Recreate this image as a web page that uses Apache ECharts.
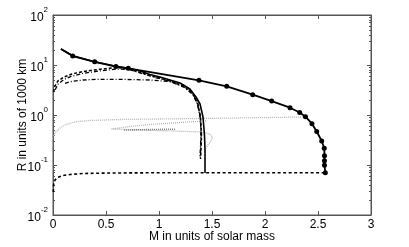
<!DOCTYPE html>
<html>
<head>
<meta charset="utf-8">
<script src="https://cdn.jsdelivr.net/npm/echarts@6/dist/echarts.min.js"></script>
<style>
html,body{margin:0;padding:0;background:#fff;}
#chart{width:409px;height:247px;}
</style>
</head>
<body>
<div id="chart"></div>
<script>
// ---- data (M in solar masses, R in 1000 km) ----
const dotsMass   = [0.075, 0.186, 0.393, 0.594, 0.710, 1.377, 1.639, 1.884, 2.063, 2.236, 2.327, 2.382, 2.443, 2.488, 2.535, 2.559, 2.561, 2.561, 2.561, 2.569];
const dotsRadius = [20.9, 15.1, 11.6, 9.3, 8.6, 4.94, 3.75, 2.55, 1.90, 1.40, 1.12, 0.925, 0.67, 0.468, 0.302, 0.217, 0.153, 0.121, 0.099, 0.070];

const chandraMass   = [0.075, 0.186, 0.392, 0.594, 0.712, 0.821, 0.915, 1.009, 1.104, 1.198, 1.292, 1.349, 1.387, 1.415, 1.429, 1.434, 1.434];
const chandraRadius = [20.9, 15.3, 11.6, 9.42, 8.59, 7.59, 6.46, 5.75, 5.01, 4.37, 3.31, 2.29, 1.66, 0.912, 0.398, 0.2, 0.0692];

const dashAMass   = [0.005, 0.019, 0.047, 0.104, 0.179, 0.283, 0.443, 0.594, 0.708, 0.915, 1.104, 1.245, 1.321, 1.368, 1.392, 1.401, 1.396, 1.392];
const dashARadius = [2.88, 3.8, 4.79, 5.75, 6.6, 7.41, 8.2, 8.91, 8.4, 6.17, 4.79, 3.63, 2.63, 1.66, 0.87, 0.398, 0.219, 0.132];

const dashBMass   = [0.02, 0.05, 0.10, 0.17, 0.28, 0.44, 0.60, 0.72, 0.92, 1.10, 1.24, 1.32, 1.365, 1.39, 1.398, 1.394, 1.39];
const dashBRadius = [3.2, 4.2, 5.1, 5.9, 6.8, 7.6, 8.3, 8.1, 6.0, 4.7, 3.55, 2.55, 1.6, 0.85, 0.4, 0.22, 0.14];

const dashCMass   = [0.113, 0.16, 0.283, 0.443, 0.604, 0.915, 1.104, 1.226, 1.311, 1.358, 1.387, 1.396, 1.392, 1.387];
const dashCRadius = [4.31, 4.63, 5.01, 5.18, 5.18, 5.01, 4.68, 3.98, 2.88, 1.82, 1.0, 0.5, 0.25, 0.145];

const dashDMass   = [0.003, 0.005, 0.019, 0.038, 0.094, 0.16, 0.283, 0.538, 1.0, 1.5, 2.0, 2.566];
const dashDRadius = [0.0288, 0.0398, 0.05, 0.0562, 0.0617, 0.0646, 0.0676, 0.0692, 0.07, 0.07, 0.07, 0.0702];

const gray1Mass   = [0.005, 0.019, 0.066, 0.123, 0.217, 0.349, 0.632, 1.009, 1.415, 1.858, 2.33, 2.377];
const gray1Radius = [0.38, 0.437, 0.55, 0.646, 0.735, 0.776, 0.813, 0.832, 0.851, 0.879, 0.912, 0.925];

const gray2Mass   = [1.443, 1.198, 0.915, 0.726, 0.552, 0.915, 1.198, 1.406, 1.481, 1.505, 1.491, 1.453, 1.434];
const gray2Radius = [0.759, 0.708, 0.646, 0.589, 0.525, 0.494, 0.474, 0.457, 0.417, 0.363, 0.302, 0.24, 0.2];

const gray3Mass   = [0.67, 0.90, 1.15];
const gray3Radius = [0.50, 0.51, 0.52];

const xTicks = [0, 0.5, 1, 1.5, 2, 2.5, 3];
const yMajor = [0.01, 0.1, 1, 10, 100];
const yMinor = [];
for (let e = -2; e < 2; e++) for (let k = 2; k <= 9; k++) yMinor.push(+(k * Math.pow(10, e)).toPrecision(3));

function pairs(xs, ys) { return xs.map((x, i) => [x, ys[i]]); }

const FONT = 'Liberation Sans, Arial, sans-serif';
const FRAME = '#555';

const chart = echarts.init(document.getElementById('chart'), null, {renderer: 'canvas'});

function line(name, xs, ys, color, width, type, extra) {
  return Object.assign({
    name, type: 'line', data: pairs(xs, ys), xAxisIndex: 0, yAxisIndex: 0,
    showSymbol: false, symbol: 'none', smooth: false, animation: false,
    lineStyle: {color, width, type}, z: 3
  }, extra || {});
}

const yBase = {
  type: 'log', logBase: 10, min: 0.01, max: 100, gridIndex: 0,
  splitLine: {show: false}, axisLine: {show: false, onZero: false}
};

chart.setOption({
  animation: false,
  grid: {left: 53, right: 38, top: 15, bottom: 32, outerBoundsMode: 'none', show: true, borderColor: FRAME, borderWidth: 1, backgroundColor: 'transparent'},
  xAxis: [
    {type: 'value', min: 0, max: 3, interval: 0.5, position: 'bottom',
     name: 'M in units of solar mass', nameLocation: 'middle', nameGap: 16, nameMoveOverlap: false,
     nameTextStyle: {fontFamily: FONT, fontSize: 12, color: '#000'},
     axisLine: {show: true, onZero: false, lineStyle: {color: FRAME}},
     axisTick: {show: true, inside: true, length: 4, lineStyle: {color: FRAME}},
     axisLabel: {show: true, margin: 4, fontFamily: FONT, fontSize: 12, color: '#000',
                 customValues: xTicks, formatter: v => String(v)},
     splitLine: {show: false}},
    {type: 'value', min: 0, max: 3, interval: 0.5, position: 'top',
     axisLine: {show: true, onZero: false, lineStyle: {color: FRAME}},
     axisTick: {show: true, inside: true, length: 4, lineStyle: {color: FRAME}},
     axisLabel: {show: false}, splitLine: {show: false}}
  ],
  yAxis: [
    Object.assign({}, yBase, {
      position: 'left',
      name: 'R in units of 1000 km', nameLocation: 'middle', nameGap: 24, nameRotate: 90, nameMoveOverlap: false,
      nameTextStyle: {fontFamily: FONT, fontSize: 12, color: '#000'},
      axisLine: {show: true, onZero: false, lineStyle: {color: FRAME}},
      axisTick: {show: true, inside: true, length: 4, customValues: yMajor, lineStyle: {color: FRAME}},
      axisLabel: {show: true, margin: 5, customValues: yMajor,
        formatter: v => '{b|10}{s|' + Math.round(Math.log10(v)) + '}',
        rich: {
          b: {fontFamily: FONT, fontSize: 12, color: '#000', lineHeight: 18, verticalAlign: 'bottom'},
          s: {fontFamily: FONT, fontSize: 8, color: '#000', lineHeight: 10, verticalAlign: 'top'}
        }}
    }),
    Object.assign({}, yBase, {
      position: 'right',
      axisLine: {show: true, onZero: false, lineStyle: {color: FRAME}},
      axisTick: {show: true, inside: true, length: 4, customValues: yMajor, lineStyle: {color: FRAME}},
      axisLabel: {show: false}
    }),
    Object.assign({}, yBase, {
      position: 'left',
      axisTick: {show: true, inside: true, length: 2, customValues: yMinor, lineStyle: {color: FRAME}},
      axisLabel: {show: false}
    }),
    Object.assign({}, yBase, {
      position: 'right',
      axisTick: {show: true, inside: true, length: 2, customValues: yMinor, lineStyle: {color: FRAME}},
      axisLabel: {show: false}
    })
  ],
  series: [
    line('gray1', gray1Mass, gray1Radius, '#b4b4b4', 1.3, [1, 1], {z: 1}),
    line('gray2', gray2Mass, gray2Radius, '#b4b4b4', 1.3, [1, 1], {z: 1}),
    line('gray3', gray3Mass, gray3Radius, '#808080', 1.6, [1, 1], {z: 2}),
    line('dashD', dashDMass, dashDRadius, '#000', 1.6, [3, 2.5]),
    line('dashC', dashCMass, dashCRadius, '#000', 1.3, [4, 2, 1, 2]),
    line('dashB', dashBMass, dashBRadius, '#000', 1.3, [4, 2, 1, 2]),
    line('dashA', dashAMass, dashARadius, '#000', 1.5, [3, 2]),
    line('chandra', chandraMass, chandraRadius, '#000', 1.6, 'solid', {z: 4}),
    line('dots', dotsMass, dotsRadius, '#000', 1.8, 'solid', {
      z: 5, showSymbol: true, symbol: 'circle',
      symbolSize: (val, params) => params.dataIndex === 0 ? 0 : 5,
      itemStyle: {color: '#000', borderWidth: 0}
    })
  ]
});
</script>
</body>
</html>
